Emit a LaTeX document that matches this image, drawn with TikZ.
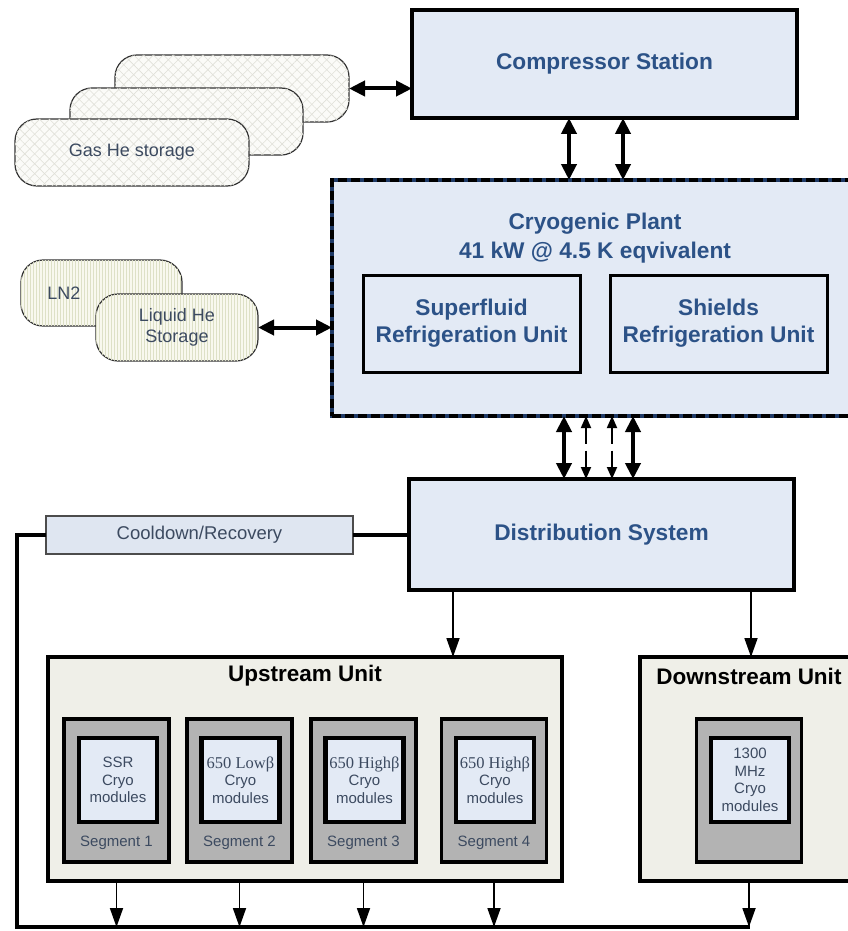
\documentclass[tikz,border=0pt]{standalone}
\usepackage{fontspec}
\setmainfont{Liberation Sans}
\newfontfamily\seriffam{Liberation Serif}
\usetikzlibrary{arrows.meta,patterns.meta}
\definecolor{boxblue}{HTML}{E3EAF5}
\definecolor{txtblue}{HTML}{2C5287}
\definecolor{txtgray}{HTML}{3C4A60}
\definecolor{unitfill}{HTML}{EFEFE8}
\definecolor{segfill}{HTML}{B3B3B3}
\definecolor{plantedge}{HTML}{1F3A66}
\definecolor{hatch}{HTML}{E0E0D8}
\definecolor{tankfill}{HTML}{FBFBF8}
\definecolor{stripe}{HTML}{DDE0C6}
\definecolor{stripefill}{HTML}{F8F8EE}
\definecolor{coolfill}{HTML}{DFE6F1}
\begin{document}
\begin{tikzpicture}[x=1pt,y=-1pt,
  every node/.style={inner sep=0pt,outer sep=0pt},
  bluebox/.style={draw=black,line width=3.5pt,fill=boxblue,align=center,
    font=\fontsize{22.7}{29}\selectfont\bfseries,text=txtblue},
  plantbox/.style={draw=plantedge,line width=3.5pt,fill=boxblue,
    postaction={draw=black,line width=3.5pt,dash pattern=on 9pt off 4pt}},
  titletext/.style={align=center,font=\fontsize{22.7}{29}\selectfont\bfseries,text=txtblue},
  rubox/.style={draw=black,line width=3pt,fill=boxblue,align=center,
    minimum width=217,minimum height=97,
    font=\fontsize{22.7}{27}\selectfont\bfseries,text=txtblue},
  tank/.style={draw=black!80,line width=1.2pt,rounded corners=22pt,fill=tankfill,
    minimum height=67,align=center,font=\fontsize{18}{21}\selectfont,text=txtgray,
    postaction={pattern={Lines[angle=45,distance=7pt,line width=0.6pt]},pattern color=hatch},
    postaction={pattern={Lines[angle=-45,distance=7pt,line width=0.6pt]},pattern color=hatch}},
  stank/.style={draw=black!80,line width=1.2pt,rounded corners=22pt,fill=stripefill,
    minimum height=67,align=center,font=\fontsize{18}{21}\selectfont,text=txtgray,
    postaction={pattern={Lines[angle=90,distance=3pt,line width=0.7pt]},pattern color=stripe}},
  tanktext/.style={font=\fontsize{18}{21}\selectfont,text=txtgray},
  coolbox/.style={draw=black!70,line width=1.2pt,fill=coolfill,minimum width=307,minimum height=38,
    font=\fontsize{18.5}{21}\selectfont,text=txtgray},
  unitbox/.style={draw=black,line width=3.5pt,fill=unitfill,minimum height=224},
  unittitle/.style={font=\fontsize{22.5}{26}\selectfont\bfseries,text=black},
  segbox/.style={draw=black,line width=3.5pt,fill=segfill,minimum width=105,minimum height=143},
  cmbox/.style={draw=black,line width=4.5pt,fill=boxblue,minimum width=78,minimum height=84,
    align=center,font=\fontsize{15}{17.5}\selectfont,text=txtgray},
  seglabel/.style={font=\fontsize{15}{18}\selectfont,text=txtgray},
  dblarrow/.style={line width=4pt,{Triangle[length=16pt,width=15pt]}-{Triangle[length=16pt,width=15pt]}},
  thindbl/.style={line width=1.8pt,dash pattern=on 16pt off 7pt,
    {Triangle[length=12pt,width=10pt]}-{Triangle[length=12pt,width=10pt]}},
  onearrow/.style={line width=1.8pt,-{Triangle[length=19pt,width=13pt]}},
  retline/.style={line width=3.5pt,line join=miter}
]
\clip (0,0) rectangle (848,931);
\fill[white] (0,0) rectangle (848,931);

% storage tanks
\node[tank,minimum width=234] (gas3) at (232,88.5) {};
\node[tank,minimum width=233] (gas2) at (186.5,121.5) {};
\node[tank,minimum width=234] (gas1) at (132,152.5) {Gas He storage};
\node[stank,minimum width=161,minimum height=66] (ln2) at (101.5,293) {};
\node[tanktext] (ln2t) at (64,293) {LN2};
\node[stank,minimum width=162] (lhe) at (177,327.5) {Liquid He\\Storage};

% main blocks
\node[bluebox,minimum width=385,minimum height=108] (comp) at (604.5,64) {Compressor Station};
\node[plantbox,minimum width=520,minimum height=236] (plant) at (592,298) {};
\node[titletext] (plantt) at (595,238) {Cryogenic Plant\\41 kW @ 4.5 K eqvivalent};
\node[rubox] (sfru) at (471.5,323.5) {Superfluid\\Refrigeration Unit};
\node[rubox] (shru) at (718.5,323.5) {Shields\\Refrigeration Unit};
\node[bluebox,minimum width=385,minimum height=111] (dist) at (601.5,534.5) {Distribution System};
\node[coolbox] (cool) at (199.5,535) {Cooldown/Recovery};

% units
\node[unitbox,minimum width=514] (up) at (305,769) {};
\node[unittitle] (upt) at (305,676) {Upstream Unit};
\node[unitbox,minimum width=212] (down) at (746,769) {};
\node[unittitle] (downt) at (749,676) {Downstream Unit};

\node[segbox] (s1) at (116.5,790.5) {};
\node[segbox] (s2) at (239.5,790.5) {};
\node[segbox] (s3) at (363.5,790.5) {};
\node[segbox] (s4) at (494,790.5) {};
\node[segbox] (sd) at (749,790.5) {};

\node[cmbox] (c1) at (118,780) {SSR\\Cryo\\modules};
\node[cmbox] (c2) at (240.5,780) {{\seriffam\fontsize{16.5}{17.5}\selectfont 650 Lowβ}\\Cryo\\modules};
\node[cmbox] (c3) at (364.5,780) {{\seriffam\fontsize{16.5}{17.5}\selectfont 650 Highβ}\\Cryo\\modules};
\node[cmbox] (c4) at (495,780) {{\seriffam\fontsize{16.5}{17.5}\selectfont 650 Highβ}\\Cryo\\modules};
\node[cmbox] (cd) at (750,780) {1300\\MHz\\Cryo\\modules};

\node[seglabel] (l1) at (116.5,843) {Segment 1};
\node[seglabel] (l2) at (239.5,843) {Segment 2};
\node[seglabel] (l3) at (363.5,843) {Segment 3};
\node[seglabel] (l4) at (494,843) {Segment 4};

% connectors
\draw[dblarrow] (gas3.east) -- (gas3.east -| comp.west);
\draw[dblarrow] ([xshift=-35.5pt]comp.south) -- ([xshift=-35.5pt]comp.south |- plant.north);
\draw[dblarrow] ([xshift=18.5pt]comp.south) -- ([xshift=18.5pt]comp.south |- plant.north);
\draw[dblarrow] (lhe.east) -- (lhe.east -| plant.west);

\draw[dblarrow] ([xshift=-28pt]plant.south) -- ([xshift=-28pt]plant.south |- dist.north);
\draw[thindbl] ([xshift=-6pt]plant.south) -- ([xshift=-6pt]plant.south |- dist.north);
\draw[thindbl] ([xshift=20pt]plant.south) -- ([xshift=20pt]plant.south |- dist.north);
\draw[dblarrow] ([xshift=41pt]plant.south) -- ([xshift=41pt]plant.south |- dist.north);

\draw[onearrow] ([xshift=-148.5pt]dist.south) -- ([xshift=-148.5pt]dist.south |- up.north);
\draw[onearrow] ([xshift=149.5pt]dist.south) -- ([xshift=149.5pt]dist.south |- down.north);

\coordinate (retl) at (17,535);
\coordinate (retb) at (17,927);
\coordinate (retr) at (750,927);
\draw[retline] (cool.east) -- (cool.east -| dist.west);
\draw[retline] (cool.west) -- (retl) -- (retb) -- (retr);

\draw[onearrow] (s1 |- up.south) -- (s1 |- retb);
\draw[onearrow] (s2 |- up.south) -- (s2 |- retb);
\draw[onearrow] (s3 |- up.south) -- (s3 |- retb);
\draw[onearrow] (s4 |- up.south) -- (s4 |- retb);
\draw[onearrow] (sd |- down.south) -- (sd |- retb);
\end{tikzpicture}
\end{document}
